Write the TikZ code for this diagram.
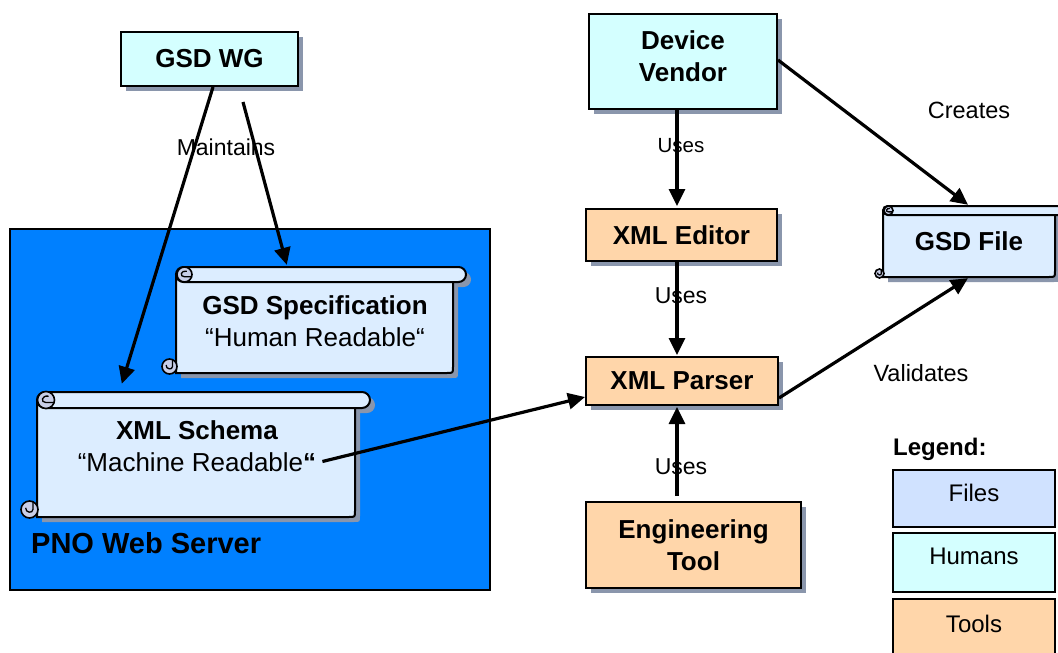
\documentclass[tikz,border=0pt]{standalone}
\usepackage{fontspec}
\setmainfont{Liberation Sans}
\usetikzlibrary{arrows.meta,shadows}

\definecolor{humanfill}{RGB}{212,255,255}
\definecolor{toolfill}{RGB}{255,214,170}
\definecolor{filefill}{RGB}{220,237,255}
\definecolor{legfile}{RGB}{208,226,255}
\definecolor{serverblue}{RGB}{0,128,255}
\definecolor{shadowgray}{RGB}{138,150,172}
\definecolor{curlfill}{RGB}{200,206,232}

\newcommand\bigbold{\fontsize{26}{32}\selectfont\bfseries}
\newcommand\bigreg{\fontsize{26}{32}\selectfont}
\newcommand\lblfont{\fontsize{23}{28}\selectfont}

% Rolled document ("scroll") shape with a named node covering it.
% #1 name, #2 left, #3 top, #4 body right, #5 bottom,
% #6 roll height, #7 roll overhang, #8 curl radius
\newcommand\scrollnode[8]{%
  \fill[shadowgray, rounded corners={#6*0.5pt}] ({#2+5},{#3+5}) rectangle ({#4+#7+5},{#3+#6+5});
  \fill[shadowgray] ({#2+5},{#3+#6}) -- ({#2+5},{#5+5}) -- ({#4-1},{#5+5})
     .. controls ({#4+5},{#5+5}) .. ({#4+5},{#5-1}) -- ({#4+5},{#3+#6}) -- cycle;
  \filldraw[fill=filefill, line width=2pt] (#2,{#3+#6*0.5}) -- (#2,#5) -- ({#4-6},#5)
     .. controls (#4,#5) .. (#4,{#5-6}) -- (#4,{#3+#6*0.5}) -- cycle;
  \filldraw[fill=filefill, line width=2pt, rounded corners={#6*0.5pt}] (#2,#3) rectangle ({#4+#7},{#3+#6});
  % top curl
  \filldraw[fill=curlfill, line width=1.6pt] ({#2+#6*0.5+1},{#3+#6*0.5}) circle[radius=#8];
  \draw[line width=1.3pt] ({#2+#6*0.5+1+#8},{#3+#6*0.5+0.3*#8}) -- ({#2+#6*0.5+1},{#3+#6*0.5+0.3*#8})
     .. controls ({#2+#6*0.5+1-0.7*#8},{#3+#6*0.5+0.3*#8}) and ({#2+#6*0.5+1-0.5*#8},{#3+#6*0.5-0.6*#8})
     .. ({#2+#6*0.5+1+0.3*#8},{#3+#6*0.5-0.45*#8});
  % bottom curl
  \filldraw[fill=curlfill, line width=1.6pt] ({#2-#8+1},{#5-#8+1}) circle[radius=#8];
  \draw[line width=1.3pt] ({#2-#8+1+0.4*#8},{#5-#8+1-#8}) -- ({#2-#8+1+0.4*#8},{#5-#8+1})
     .. controls ({#2-#8+1+0.4*#8},{#5-#8+1+0.5*#8}) and ({#2-#8+1-0.5*#8},{#5-#8+1+0.4*#8})
     .. ({#2-#8+1-0.45*#8},{#5-#8+1-0.2*#8});
  \node[inner sep=0pt, minimum width={(#4-#2)*1pt}, minimum height={(#5-#3)*1pt}]
     (#1) at ({(#2+#4)/2},{(#3+#5)/2}) {};
}

\begin{document}
\begin{tikzpicture}[x=1pt, y=-1pt,
  box/.style={draw, line width=2pt, inner sep=0pt, align=center, font=\bigbold,
    drop shadow={shadow xshift=5pt, shadow yshift=-5pt, fill=shadowgray, opacity=1}},
  human/.style={box, fill=humanfill},
  toolbox/.style={box, fill=toolfill},
  arr/.style={line width=3.2pt, -{Triangle[length=17pt, width=16pt]}},
  lbl/.style={inner sep=0pt, font=\lblfont},
  legbox/.style={draw, line width=2pt, inner sep=0pt, minimum width=162pt},
  legtext/.style={inner sep=0pt, font=\fontsize{24}{29}\selectfont}
]
\useasboundingbox (0,0) rectangle (1058,653);
\clip (0,0) rectangle (1058,653);
\fill[white] (0,0) rectangle (1058,653);

% PNO web server area
\node[draw, line width=1.5pt, fill=serverblue, minimum width=480pt, minimum height=361pt, inner sep=0pt]
  (server) at (250,409.5) {};
\node[anchor=west, inner sep=0pt, font=\fontsize{29}{34}\selectfont\bfseries] (servertext) at (31,543.5) {PNO Web Server};

% documents
\scrollnode{spec}{176}{267}{453}{373}{15}{13}{7.5}
\node[inner sep=0pt, align=center, font=\bigreg] (spectext) at (315,321)
  {\textbf{GSD Specification}\\“Human Readable“};

\scrollnode{schema}{37}{392}{355}{517}{16}{15}{8.5}
\node[inner sep=0pt, align=center, font=\bigreg] (schematext) at (197,446.5)
  {\textbf{XML Schema}\\“Machine Readable\textbf{“}};

\scrollnode{file}{883}{206}{1055}{277}{9}{20}{4.5}
\node[inner sep=0pt, font=\bigbold] (filetext) at (969,241) {GSD File};

% humans and tools
\node[human, minimum width=177pt, minimum height=54pt] (wg) at (209.5,59) {GSD WG};
\node[human, minimum width=188pt, minimum height=95pt,
  label={[inner sep=0pt, align=center, font=\bigbold, yshift=5.5pt]center:Device\\Vendor}]
  (vendor) at (683,61.5) {};
\node[toolbox, minimum width=191pt, minimum height=52pt] (editor) at (681.5,235) {XML Editor};
\node[toolbox, minimum width=192pt, minimum height=48pt] (parser) at (682,381) {XML Parser};
\node[toolbox, minimum width=215pt, minimum height=86pt] (tool) at (693.5,545) {Engineering\\Tool};

% legend
\node[anchor=base west, inner sep=0pt, font=\fontsize{24}{29}\selectfont\bfseries] (legend) at (893,455) {Legend:};
\node[legbox, fill=legfile, minimum height=57pt] (legfiles) at (974,498.5) {};
\node[legbox, fill=humanfill, minimum height=59pt] (leghumans) at (974,562.5) {};
\node[legbox, fill=toolfill, minimum height=66pt] (legtools) at (974,632) {};
\node[legtext] at ([shift={(0,24)}]legfiles.north) {Files};
\node[legtext] at ([shift={(0,24)}]leghumans.north) {Humans};
\node[legtext] at ([shift={(0,26)}]legtools.north) {Tools};

% connectors
\coordinate (maintstart) at (243,102);
\draw[arr] ([xshift=3.5pt]wg.south) -- ([shift={(85,-8)}]schema.north west);
\draw[arr] (maintstart) -- ([shift={(111,-2)}]spec.north west);
\draw[arr] ([shift={(6,15)}]schematext.east) -- ([shift={(0,16)}]parser.west);
\draw[arr] ([xshift=-6pt]vendor.south) -- ([shift={(-4.5,-2)}]editor.north);
\draw[arr] ([xshift=-4.5pt]editor.south) -- ([shift={(-5,-1)}]parser.north);
\draw[arr] ([shift={(-16.5,-5)}]tool.north) -- ([shift={(-5,1)}]parser.south);
\draw[arr] ([shift={(0,-1.5)}]vendor.east) -- ([shift={(-1,-1)}]file.north);
\draw[arr] ([shift={(0,17)}]parser.east) -- ([shift={(-1,1)}]file.south);

% connector labels
\node[lbl] at (226,147) {Maintains};
\node[lbl, font=\fontsize{20.5}{25}\selectfont] at (681,146) {Uses};
\node[lbl] at (681,296) {Uses};
\node[lbl] at (681,467) {Uses};
\node[lbl, font=\fontsize{23.5}{28}\selectfont] at (969,110) {Creates};
\node[lbl, font=\fontsize{23.5}{28}\selectfont] at (921,373) {Validates};
\end{tikzpicture}
\end{document}
